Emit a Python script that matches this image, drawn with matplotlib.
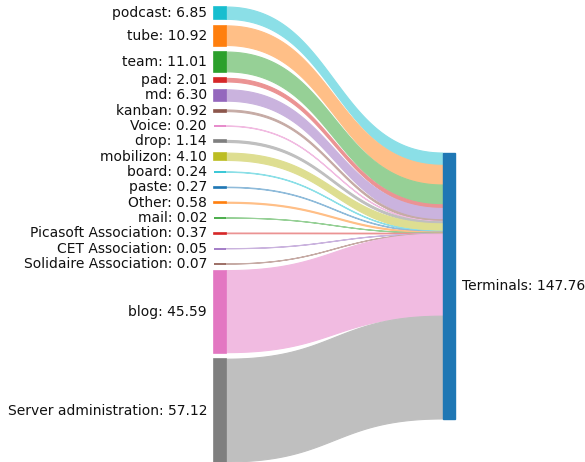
import matplotlib
matplotlib.use("Agg")
import matplotlib.pyplot as plt
from matplotlib.patches import Rectangle, Polygon
from matplotlib.colors import to_rgb
import numpy as np

# Data: sources flowing into one target
sources = ["podcast", "tube", "team", "pad", "md", "kanban", "Voice", "drop",
           "mobilizon", "board", "paste", "Other", "mail", "Picasoft Association",
           "CET Association", "Solidaire Association", "blog", "Server administration"]
values = [6.85, 10.92, 11.01, 2.01, 6.30, 0.92, 0.20, 1.14,
          4.10, 0.24, 0.27, 0.58, 0.02, 0.37,
          0.05, 0.07, 45.59, 57.12]
colors = ["tab:cyan", "tab:orange", "tab:green", "tab:red", "tab:purple", "tab:brown",
          "tab:pink", "tab:gray", "tab:olive", "tab:cyan", "tab:blue", "tab:orange",
          "tab:green", "tab:red", "tab:purple", "tab:brown", "tab:pink", "tab:gray"]
target = "Terminals"
target_color = "tab:blue"

# Layout (pixel units)
W, H = 585, 462
scale = 1.8          # px per unit
gap = 4.5            # min gap between node boxes
label_step = 13.3    # min distance between label centres
top, bottom = 7, 462
x_left, x_right, node_w = 214, 443, 12
right_center = 286

fig = plt.figure(figsize=(W / 100, H / 100), dpi=100)
ax = fig.add_axes([0, 0, 1, 1])
ax.set_xlim(0, W)
ax.set_ylim(H, 0)
ax.axis("off")

# stack left nodes, then spread the leftover room evenly over the gaps
heights = np.array(values) * scale
centers = []
prev_c = prev_b = None
for h in heights:
    if prev_c is None:
        c = top + h / 2
    else:
        c = max(prev_b + gap + h / 2, prev_c + label_step)
    centers.append(c)
    prev_c, prev_b = c, c + h / 2
centers = np.array(centers)
extra = (bottom - prev_b) / (len(values) - 1)
centers += extra * np.arange(len(values))

total = sum(values)
r_top = right_center - total * scale / 2

# flows
t = np.linspace(0, 1, 120)
x0, x1 = x_left + node_w, x_right
xm = (x0 + x1) / 2
bx = (1 - t) ** 3 * x0 + 3 * (1 - t) ** 2 * t * xm + 3 * (1 - t) * t ** 2 * xm + t ** 3 * x1
def curve(ya, yb):
    return (1 - t) ** 3 * ya + 3 * (1 - t) ** 2 * t * ya + 3 * (1 - t) * t ** 2 * yb + t ** 3 * yb

offset = r_top
for c, h, col in zip(centers, heights, colors):
    light = 0.5 * np.array(to_rgb(col)) + 0.5  # same as alpha 0.5 on white
    y_a0, y_a1 = c - h / 2, c + h / 2
    y_b0, y_b1 = offset, offset + h
    upper = np.column_stack([bx, curve(y_a0, y_b0)])
    lower = np.column_stack([bx, curve(y_a1, y_b1)])[::-1]
    ax.add_patch(Polygon(np.vstack([upper, lower]), closed=True, facecolor=light,
                         edgecolor=light, linewidth=0.8, zorder=1))
    offset += h

# left nodes and labels
for name, v, c, h, col in zip(sources, values, centers, heights, colors):
    ax.add_patch(Rectangle((x_left, c - h / 2), node_w, h, facecolor=col,
                           edgecolor=col, linewidth=1.2, zorder=2))
    ax.text(x_left - 7, c, f"{name}: {v:.2f}", ha="right", va="center",
            fontsize=10, color="#111111")

# right node
ax.add_patch(Rectangle((x_right, r_top), node_w, total * scale, facecolor=target_color,
                       edgecolor=target_color, linewidth=1, zorder=2))
ax.text(x_right + node_w + 7, right_center, f"{target}: {total:.2f}", ha="left",
        va="center", fontsize=10, color="#111111")

fig.savefig("out.png", dpi=100)
